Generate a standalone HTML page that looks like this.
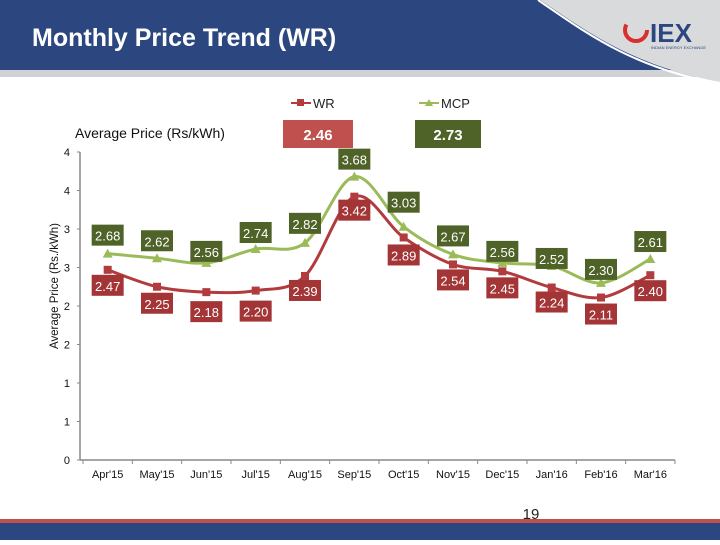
<!DOCTYPE html>
<html><head><meta charset="utf-8">
<style>
body{margin:0;width:720px;height:540px;overflow:hidden;background:#fff;font-family:"Liberation Sans",sans-serif}
</style></head><body>
<svg width="720" height="540" viewBox="0 0 720 540" xmlns="http://www.w3.org/2000/svg">
<rect x="0" y="0" width="720" height="70" fill="#2c4780"/>
<rect x="0" y="70" width="720" height="7" fill="#d0d2d6"/>
<path d="M540,0 C585,30 630,65 720,82 L720,0 Z" fill="#d9dadc"/>
<path d="M538,0 C585,32 630,67 720,84" fill="none" stroke="#fff" stroke-width="2"/>
<g>
<circle cx="636" cy="30" r="11" fill="none" stroke="#d9302f" stroke-width="4" stroke-dasharray="40 30"/>
<text x="650" y="42" font-size="26" font-weight="bold" fill="#2c4780">IEX</text>
<text x="651" y="49" font-size="4" fill="#2c4780">INDIAN ENERGY EXCHANGE</text>
</g>
<text x="32" y="46" font-size="25" font-weight="bold" fill="#fff">Monthly Price Trend (WR)</text>

<g>
<line x1="291" y1="103" x2="311" y2="103" stroke="#b43c3d" stroke-width="2"/><rect x="297" y="99" width="7" height="7" fill="#b43c3d"/>
<text x="313" y="108" font-size="13" fill="#222">WR</text>
<line x1="419" y1="103" x2="439" y2="103" stroke="#9bbb59" stroke-width="2"/><path d="M429,99 L433,106 L425,106Z" fill="#9bbb59"/>
<text x="441" y="108" font-size="13" fill="#222">MCP</text>
</g>
<text x="75" y="138" font-size="14" fill="#111">Average Price (Rs/kWh)</text>
<rect x="283" y="120" width="70" height="28" fill="#c0504d"/>
<text x="318" y="140" font-size="15" font-weight="bold" fill="#fff" text-anchor="middle">2.46</text>
<rect x="415" y="120" width="66" height="28" fill="#4f6228"/>
<text x="448" y="140" font-size="15" font-weight="bold" fill="#fff" text-anchor="middle">2.73</text>

<text transform="translate(58,286) rotate(-90)" font-size="12" fill="#111" text-anchor="middle" textLength="126" lengthAdjust="spacingAndGlyphs">Average Price (Rs./kWh)</text>
<g id="chart"></g>
<text x="531" y="519" font-size="15" fill="#222" text-anchor="middle">19</text>
<rect x="0" y="519" width="720" height="4" fill="#c0504d"/>
<rect x="0" y="523" width="720" height="17" fill="#2c4780"/>
</svg>
<script>
const categories=["Apr'15","May'15","Jun'15","Jul'15","Aug'15","Sep'15","Oct'15","Nov'15","Dec'15","Jan'16","Feb'16","Mar'16"];
const wrValues=[2.47,2.25,2.18,2.20,2.39,3.42,2.89,2.54,2.45,2.24,2.11,2.40];
const mcpValues=[2.68,2.62,2.56,2.74,2.82,3.68,3.03,2.67,2.56,2.52,2.30,2.61];
const yTicks=[0,0.5,1,1.5,2,2.5,3,3.5,4];
const yTickLabels=["0","1","1","2","2","3","3","4","4"];
const wrLabelDy=[16,17,20,21,15,14,18,16,17,15,17,16];
const mcpLabelDy=[-18,-17,-11,-16,-19,-17,-24,-18,-11,-7,-13,-17];
const NS="http://www.w3.org/2000/svg";
const g=document.getElementById('chart');
const X0=83,X1=675,Y0=460,YTOP=152,YMAX=4;
const xS=i=>X0+(X1-X0)/categories.length*(i+0.5);
const yS=v=>Y0-(Y0-YTOP)*v/YMAX;
function mk(t,a){const e=document.createElementNS(NS,t);for(const k in a)e.setAttribute(k,a[k]);g.appendChild(e);return e;}
let ax=mk('line',{x1:80,y1:YTOP,x2:80,y2:Y0,stroke:'#888','stroke-width':1.5});


let bx=mk('line',{x1:80,y1:Y0,x2:X1,y2:Y0,stroke:'#888','stroke-width':1.5});


yTicks.forEach((v,i)=>{
  mk('line',{x1:77,y1:yS(v),x2:80,y2:yS(v),stroke:'#888'});
  const t=mk('text',{x:70,y:yS(v)+4,'font-size':11,'text-anchor':'end',fill:'#111'});
  t.textContent=yTickLabels[i];
  
  
});
categories.forEach((c,i)=>{
  const tx=X0+(X1-X0)/categories.length*i;
  mk('line',{x1:tx,y1:Y0,x2:tx,y2:Y0+4,stroke:'#888'});
  const t=mk('text',{x:xS(i),y:Y0+18,'font-size':11,'text-anchor':'middle',fill:'#111'});
  t.textContent=c;
  
  
});
mk('line',{x1:X1,y1:Y0,x2:X1,y2:Y0+4,stroke:'#888'});
function smooth(pts){
  let d=`M${pts[0][0]},${pts[0][1]}`;
  for(let i=0;i<pts.length-1;i++){
    const p0=pts[i-1]||pts[i],p1=pts[i],p2=pts[i+1],p3=pts[i+2]||p2,s=6;
    d+=` C${p1[0]+(p2[0]-p0[0])/s},${p1[1]+(p2[1]-p0[1])/s} ${p2[0]-(p3[0]-p1[0])/s},${p2[1]-(p3[1]-p1[1])/s} ${p2[0]},${p2[1]}`;
  }
  return d;
}
function series(vals,color,name,marker,boxColor,dys){
  const pts=vals.map((v,i)=>[xS(i),yS(v)]);
  const p=mk('path',{d:smooth(pts),fill:'none',stroke:color,'stroke-width':3});
  
  
  pts.forEach(([x,y],i)=>{
    let m;
    if(marker==='sq') m=mk('rect',{x:x-4,y:y-4,width:8,height:8,fill:color});
    else m=mk('path',{d:`M${x},${y-5} L${x+5},${y+4} L${x-5},${y+4}Z`,fill:color});
    
    
    const ly=y+dys[i];
    const r=mk('rect',{x:x-16,y:ly-11,width:32,height:21,fill:boxColor});
    
    
    const t=mk('text',{x:x,y:ly+5,'font-size':13,'text-anchor':'middle',fill:'#fff'});
    t.textContent=vals[i].toFixed(2);
    
    
  });
}
series(mcpValues,'#9bbb59','mcp','tri','#4f6228',mcpLabelDy);
series(wrValues,'#b23b3d','wr','sq','#a33537',wrLabelDy);
</script>
</body></html>
